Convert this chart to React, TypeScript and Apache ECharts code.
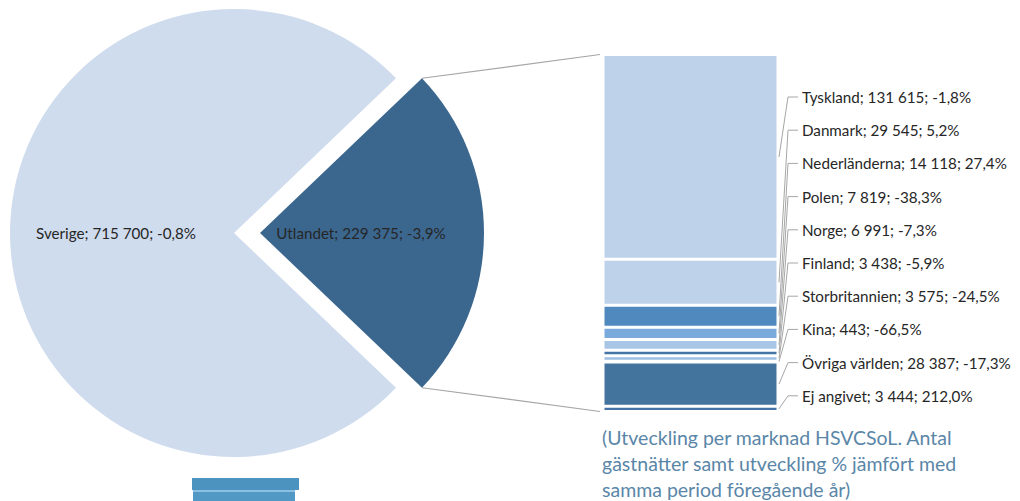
import React, { useEffect, useRef } from "react";
import * as echarts from "echarts";

// ---- Data ----
const pieNames = ["Utlandet", "Sverige"];
const pieValues = [229375, 715700];
const pieChanges = [-3.9, -0.8];

const marketNames = [
  "Tyskland",
  "Danmark",
  "Nederländerna",
  "Polen",
  "Norge",
  "Finland",
  "Storbritannien",
  "Kina",
  "Övriga världen",
  "Ej angivet",
];
const marketValues = [131615, 29545, 14118, 7819, 6991, 3438, 3575, 443, 28387, 3444];
const marketChanges = [-1.8, 5.2, 27.4, -38.3, -7.3, -5.9, -24.5, -66.5, -17.3, 212.0];

const noteLines = [
  "(Utveckling per marknad HSVCSoL. Antal",
  "gästnätter samt utveckling % jämfört med",
  "samma period föregående år)",
];

// ---- Styles / layout ----
const FONT = "Lato, 'Open Sans', sans-serif";
const FONT_SIZE = 15.2;
const TEXT_COLOR = "#262626";
const PIE_COLORS = ["#3b678f", "#cfdcee"];
const BAR_COLORS = ["#bed2ea", "#bed2ea", "#4f89bd", "#7aaadc", "#a9c5e6", "#4575a6", "#9dbee2", "#4a7cae", "#43749e", "#4472a4"];
const PIE_CENTER = [234, 233];
const EXPLODE = 26;
const PIE_R = 224;
const BORDER = 1.5;
const GRID = { left: 603, top: 54.5, width: 175, height: 357 };
const LABEL_TOP = 97;
const LABEL_STEP = 33.2;
const LEADER = "#a6a6a6";

const fmtNum = (v: number) => String(Math.round(v)).replace(/\B(?=(\d{3})+(?!\d))/g, " ");
const fmtPct = (v: number) => v.toFixed(1).replace(".", ",") + "%";

export default function App() {
  const ref = useRef<HTMLDivElement>(null);

  useEffect(() => {
    if (!ref.current) return;
    const chart = echarts.init(ref.current, undefined, { renderer: "svg" });

    const total = pieValues.reduce((a, b) => a + b, 0);
    const utlAngle = (pieValues[0] / total) * 360;
    const startAngle = utlAngle / 2;
    const marketTotal = marketValues.reduce((a, b) => a + b, 0);

    const pieLabel = (i: number) =>
      `${pieNames[i]}; ${fmtNum(pieValues[i])}; ${fmtPct(pieChanges[i])}`;

    // cumulative stack ranges for label leader lines
    const ranges: number[][] = [];
    let acc = 0;
    marketValues.forEach((v, i) => {
      ranges.push([0, acc, acc + v, i]);
      acc += v;
    });

    const barSeries = marketNames.map((name, i) => ({
      name,
      type: "bar",
      stack: "total",
      barWidth: "100%",
      data: [marketValues[i]],
      itemStyle: { color: BAR_COLORS[i], borderColor: "#ffffff", borderWidth: BORDER },
      silent: true,
      emphasis: { disabled: true },
    }));

    // connector lines from exploded slice corners to bar top/bottom left corners
    const a = (startAngle * Math.PI) / 180;
    const cx = PIE_CENTER[0] + EXPLODE;
    const cy = PIE_CENTER[1];
    const topCorner = [cx + PIE_R * Math.cos(a), cy - PIE_R * Math.sin(a)];
    const botCorner = [cx + PIE_R * Math.cos(a), cy + PIE_R * Math.sin(a)];

    chart.setOption({
      animation: false,
      grid: { ...GRID, containLabel: false },
      xAxis: { type: "category", data: ["Utlandet"], show: false },
      yAxis: { type: "value", min: 0, max: marketTotal, inverse: true, show: false },
      series: [
        {
          type: "pie",
          center: PIE_CENTER,
          radius: PIE_R,
          startAngle,
          clockwise: true,
          silent: true,
          emphasis: { disabled: true },
          labelLine: { show: false },
          data: [
            { name: pieNames[0], value: pieValues[0], itemStyle: { color: "rgba(0,0,0,0)" }, label: { show: false } },
            {
              name: pieNames[1],
              value: pieValues[1],
              itemStyle: { color: PIE_COLORS[1] },
              label: {
                show: true,
                position: "inside",
                formatter: () => pieLabel(1),
                color: TEXT_COLOR,
                fontFamily: FONT,
                fontSize: FONT_SIZE,
              },
            },
          ],
          labelLayout: { dx: -3 },
        },
        {
          type: "pie",
          center: [cx, cy],
          radius: PIE_R,
          startAngle,
          clockwise: true,
          silent: true,
          emphasis: { disabled: true },
          labelLine: { show: false },
          data: [
            {
              name: pieNames[0],
              value: pieValues[0],
              itemStyle: { color: PIE_COLORS[0] },
              label: {
                show: true,
                position: "inside",
                formatter: () => pieLabel(0),
                color: TEXT_COLOR,
                fontFamily: FONT,
                fontSize: FONT_SIZE,
              },
            },
            { name: pieNames[1], value: pieValues[1], itemStyle: { color: "rgba(0,0,0,0)" }, label: { show: false } },
          ],
          labelLayout: { dx: -14 },
        },
        ...barSeries,
        {
          type: "custom",
          silent: true,
          clip: false,
          data: ranges,
          z: 10,
          renderItem: (params: any, api: any) => {
            const s = api.value(1);
            const e = api.value(2);
            const idx = api.value(3);
            const mid = api.coord([0, (s + e) / 2]);
            const half = api.size([1, 0])[0] / 2;
            const rx = mid[0] + half;
            const ly = LABEL_TOP + idx * LABEL_STEP;
            return {
              type: "group",
              children: [
                {
                  type: "polyline",
                  shape: { points: [[rx + 1, mid[1]], [rx + 10, ly], [rx + 20, ly]] },
                  style: { stroke: LEADER, lineWidth: 1, fill: "none" },
                },
                {
                  type: "text",
                  style: {
                    text: `${marketNames[idx]}; ${fmtNum(marketValues[idx])}; ${fmtPct(marketChanges[idx])}`,
                    x: rx + 24,
                    y: ly,
                    verticalAlign: "middle",
                    align: "left",
                    fill: TEXT_COLOR,
                    fontFamily: FONT,
                    fontSize: FONT_SIZE,
                  },
                },
              ],
            };
          },
        },
      ],
      graphic: [
        {
          type: "line",
          shape: { x1: topCorner[0], y1: topCorner[1], x2: GRID.left - 3, y2: GRID.top },
          style: { stroke: LEADER, lineWidth: 1.2 },
          silent: true,
        },
        {
          type: "line",
          shape: { x1: botCorner[0], y1: botCorner[1], x2: GRID.left - 3, y2: GRID.top + GRID.height },
          style: { stroke: LEADER, lineWidth: 1.2 },
          silent: true,
        },
        {
          type: "text",
          left: 602,
          top: 424,
          silent: true,
          style: {
            text: noteLines.join("\n"),
            fill: "#5a86a8",
            fontFamily: FONT,
            fontSize: 19.5,
            lineHeight: 26,
          },
        },
        {
          type: "group",
          silent: true,
          children: [
            { type: "rect", shape: { x: 192, y: 478, width: 107, height: 12 }, style: { fill: "#4d93c0" } },
            { type: "rect", shape: { x: 193, y: 490, width: 102, height: 2 }, style: { fill: "#8cc0e2" } },
            { type: "rect", shape: { x: 193, y: 492, width: 102, height: 10 }, style: { fill: "#5298c4" } },
          ],
        },
      ],
    });

    return () => chart.dispose();
  }, []);

  return (
    <div
      ref={ref}
      style={{ position: "fixed", left: 0, top: 0, width: 1020, height: 501, background: "#ffffff" }}
    />
  );
}
